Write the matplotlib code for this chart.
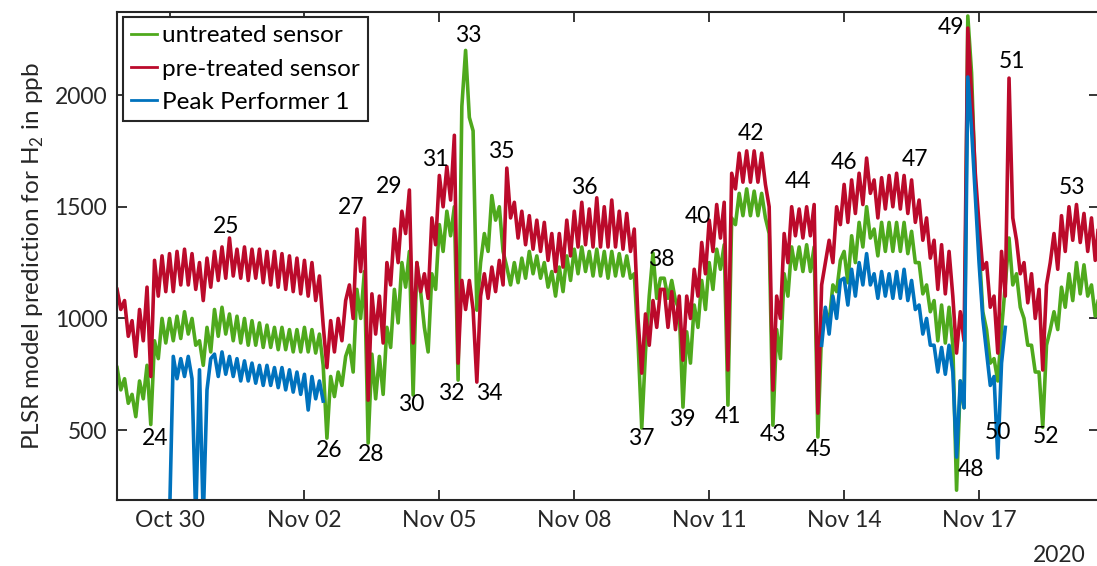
import numpy as np
import pandas as pd
import matplotlib
matplotlib.use("Agg")
import matplotlib.pyplot as plt
import matplotlib.dates as mdates

nan = np.nan
#============================================================
# readings every 2 h starting Oct 28 20:00, one row per day
untreated_rows = [
    [780, 680],  # Oct 28 (20, 22h)
    [730, 620, 660, 560, 720, 640, 790, 525, 900, 820, 1000, 890],  # Oct 29
    [1000, 900, 1010, 910, 1030, 930, 1000, 880, 900, 790, 960, 850],  # Oct 30
    [1040, 920, 1050, 930, 1020, 900, 1010, 890, 1000, 880, 990, 880],  # Oct 31
    [980, 870, 970, 870, 960, 860, 960, 860, 950, 850, 950, 850],  # Nov 01
    [960, 850, 950, 845, 930, 790, 464, 740, 650, 760, 700, 830],  # Nov 02
    [880, 760, 1130, 1000, 1210, 442, 840, 640, 830, 660, 960, 870],  # Nov 03
    [1130, 980, 1250, 1140, 1300, 657, 1250, 1120, 960, 850, 1200, 1130],  # Nov 04
    [1420, 1300, 1480, 1370, 1500, 724, 1950, 2200, 1900, 1840, 1037, 1250],  # Nov 05
    [1380, 1300, 1550, 1440, 1500, 1300, 1230, 1150, 1250, 1160, 1270, 1180],  # Nov 06
    [1300, 1200, 1280, 1180, 1250, 1140, 1210, 1100, 1230, 1120, 1280, 1170],  # Nov 07
    [1310, 1200, 1320, 1210, 1300, 1190, 1310, 1190, 1300, 1180, 1300, 1190],  # Nov 08
    [1290, 1190, 1280, 1180, 1200, 900, 509, 850, 1100, 1292, 1090, 1180],  # Nov 09
    [1180, 1090, 1170, 1080, 1040, 603, 940, 800, 1060, 960, 1170, 1040],  # Nov 10
    [1250, 1130, 1310, 1220, 1330, 612, 1450, 1420, 1560, 1460, 1580, 1460],  # Nov 11
    [1570, 1460, 1560, 1450, 1380, 522, 950, 820, 1200, 1100, 1320, 1220],  # Nov 12
    [1320, 1210, 1330, 1210, 1320, 469, 950, 1040, 980, 1150, 1120, 1260],  # Nov 13
    [1300, 1160, 1370, 1250, 1430, 1320, 1500, 1360, 1400, 1280, 1430, 1300],  # Nov 14
    [1430, 1300, 1430, 1300, 1430, 1290, 1390, 1250, 1250, 1110, 1150, 1030],  # Nov 15
    [1080, 900, 1060, 890, 1050, 880, 231, 720, 600, 2354, 2100, 1600],  # Nov 16
    [1320, 1030, 950, 800, 820, 720, 950, 1150, 1360, 1150, 1200, 1050],  # Nov 17
    [1000, 880, 880, 760, 760, 513, 880, 950, 1030, 950, 1140, 1050],  # Nov 18
    [1200, 1080, 1250, 1110, 1240, 1100, 1150, 1010, 1100],  # Nov 19 (to 16h)
]
pretreated_rows = [
    [1130, 1040],
    [1080, 920, 990, 830, 1040, 900, 1140, 740, 1260, 1100, 1280, 1120],
    [1290, 1120, 1300, 1150, 1310, 1150, 1290, 1130, 1250, 1080, 1270, 1140],
    [1300, 1170, 1320, 1180, 1360, 1190, 1310, 1180, 1320, 1170, 1310, 1180],
    [1310, 1160, 1300, 1150, 1300, 1140, 1290, 1130, 1280, 1120, 1270, 1110],
    [1260, 1100, 1250, 1080, 1190, 970, 780, 990, 850, 1000, 900, 1080],
    [1150, 1000, 1400, 1210, 1450, 634, 1110, 930, 1100, 890, 1250, 1150],
    [1400, 1250, 1480, 1380, 1575, 890, 1250, 1120, 1200, 1090, 1450, 1330],
    [1640, 1500, 1680, 1530, 1820, 800, 1170, 1040, 1170, 1040, 715, 1100],
    [1200, 1090, 1230, 1120, 1260, 1150, 1673, 1450, 1520, 1360, 1480, 1330],
    [1460, 1310, 1440, 1300, 1430, 1260, 1380, 1210, 1380, 1230, 1440, 1280],
    [1480, 1320, 1520, 1330, 1490, 1320, 1540, 1320, 1500, 1320, 1530, 1320],
    [1480, 1310, 1470, 1300, 1400, 1000, 755, 1020, 880, 1080, 960, 1130],
    [1130, 960, 1120, 950, 1100, 813, 1100, 1000, 1220, 1100, 1340, 1200],
    [1440, 1300, 1510, 1360, 1520, 769, 1650, 1580, 1740, 1610, 1750, 1610],
    [1750, 1610, 1740, 1600, 1500, 679, 1100, 1000, 1380, 1250, 1500, 1370],
    [1490, 1360, 1500, 1370, 1510, 576, 1150, 1250, 1350, 1250, 1500, 1420],
    [1600, 1430, 1620, 1470, 1650, 1510, 1718, 1560, 1620, 1450, 1630, 1490],
    [1640, 1500, 1650, 1490, 1640, 1470, 1620, 1430, 1530, 1350, 1450, 1270],
    [1350, 1130, 1330, 1110, 1300, 1100, 845, 1030, 900, 2300, 2000, 1650],
    [1420, 1220, 1250, 1050, 1100, 845, 1300, 1100, 2076, 1450, 1350, 1200],
    [1250, 1070, 1200, 1000, 1130, 769, 1150, 1250, 1380, 1220, 1460, 1300],
    [1500, 1350, 1510, 1340, 1470, 1300, 1450, 1260, 1440],
]
E = [nan] * 12  # no reference instrument data that day
peak_rows = [
    [nan, nan],
    E,
    [100, 830, 730, 820, 740, 830, 730, 100, 770, 100, 680, 820],
    [840, 740, 850, 750, 830, 740, 820, 720, 810, 720, 800, 710],
    [790, 700, 790, 700, 780, 690, 780, 680, 770, 670, 760, 660],
    [750, 590, 740, 640, 720, 630, nan, nan, nan, nan, nan, nan],
    E, E, E, E, E, E, E, E, E, E,  # Nov 03 - Nov 12
    [nan, nan, nan, nan, nan, nan, 880, 1050, 930, 1100, 1000, 1170],
    [1180, 1060, 1220, 1100, 1250, 1150, 1290, 1150, 1200, 1090, 1210, 1100],
    [1200, 1090, 1210, 1090, 1220, 1080, 1170, 1040, 1060, 930, 1000, 880],
    [880, 760, 870, 750, 880, 760, 379, 720, 600, 2081, 1850, 1550],
    [1250, 1000, 850, 700, 740, 375, 800, 960, nan, nan, nan, nan],
    E,
    [nan] * 9,
]

label_num = [24, 25, 26, 27, 28, 29, 30, 31, 32, 33, 34, 35, 36, 37, 38,
             39, 40, 41, 42, 43, 44, 45, 46, 47, 48, 49, 50, 51, 52, 53]
# label position: days after Oct 28 00:00, value in ppb
label_day = [1.68, 3.26, 5.54, 6.03, 6.48, 6.89, 7.38, 7.90, 8.26, 8.64,
             9.10, 9.37, 11.23, 12.50, 12.94, 13.40, 13.74, 14.41, 14.92, 15.41,
             15.98, 16.45, 16.99, 18.57, 19.81, 19.37, 20.43, 20.74, 21.48, 22.06]
label_val = [464, 1413, 407, 1495, 392, 1589, 616, 1713, 664, 2269,
             666, 1746, 1588, 464, 1266, 549, 1455, 559, 1830, 482,
             1612, 415, 1697, 1713, 325, 2304, 491, 2149, 470, 1584]
#============================================================

untreated = np.concatenate(untreated_rows).astype(float)
pretreated = np.concatenate(pretreated_rows).astype(float)
peak = np.concatenate(peak_rows).astype(float)
times = pd.date_range("2020-10-28 20:00", periods=len(untreated), freq="2h")

plt.rcParams["font.family"] = ["Lato", "DejaVu Sans"]
plt.rcParams["mathtext.fontset"] = "custom"
plt.rcParams["mathtext.rm"] = "Lato"
fs = 16.5
dark = "#262626"

fig = plt.figure(figsize=(10.97, 5.66), dpi=100)
ax = fig.add_axes([0.1067, 0.1166, 0.8951, 0.8622])

lw = 2.6
ax.plot(times, untreated, color="#4fa91d", lw=lw, label="untreated sensor")
ax.plot(times, pretreated, color="#bb0a2b", lw=lw, label="pre-treated sensor")
ax.plot(times, peak, color="#0072bd", lw=lw, label="Peak Performer 1")

base = pd.Timestamp("2020-10-28")
for n, d, v in zip(label_num, label_day, label_val):
    ax.text(base + pd.Timedelta(days=d), v, str(n), ha="center", va="center",
            fontsize=fs, color="black")

ax.set_xlim(pd.Timestamp("2020-10-28 20:00"), pd.Timestamp("2020-11-19 16:00"))
ax.set_ylim(187, 2372)
ax.set_yticks([500, 1000, 1500, 2000])
ax.xaxis.set_major_locator(mdates.DayLocator(bymonthday=[30, 2, 5, 8, 11, 14, 17]))
ax.xaxis.set_major_formatter(mdates.DateFormatter("%b %d"))
ax.tick_params(direction="in", top=True, right=True, length=7, width=1.3,
               labelsize=fs, colors=dark, pad=7)
for s in ax.spines.values():
    s.set_linewidth(1.5)
    s.set_color(dark)

ax.set_ylabel("PLSR model prediction for H$_{\\mathrm{2}}$ in ppb", fontsize=17.5,
              color=dark, labelpad=6)
fig.text(1059 / 1097, 1 - 555 / 566, "2020", ha="center", va="center",
         fontsize=fs, color=dark)

leg = ax.legend(loc="upper left", bbox_to_anchor=(0.006, 0.99), fontsize=17.5,
                frameon=True, fancybox=False, handlelength=1.05, handletextpad=0.2,
                labelspacing=0.5, borderpad=0.35, borderaxespad=0)
leg.get_frame().set_edgecolor(dark)
leg.get_frame().set_linewidth(1.5)
leg.get_frame().set_alpha(1)
for line in leg.get_lines():
    line.set_linewidth(2.0)

fig.savefig("out.png", dpi=100)
